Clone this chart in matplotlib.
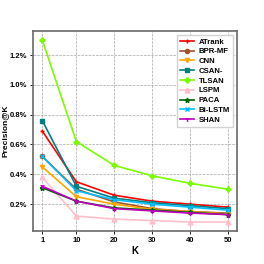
import matplotlib
matplotlib.use("Agg")
import matplotlib.pyplot as plt
from matplotlib.ticker import PercentFormatter

# ---------- data (Precision@K, as fractions) ----------
k = [1, 10, 20, 30, 40, 50]
atrank = [0.0069, 0.0035, 0.0026, 0.0022, 0.0020, 0.0018]
bprmf = [0.0052, 0.0030, 0.00215, 0.0017, 0.0015, 0.0014]
cnn = [0.0045, 0.0025, 0.0020, 0.00165, 0.0015, 0.00135]
csan = [0.0076, 0.0032, 0.0024, 0.0021, 0.0019, 0.0017]
tlsan = [0.0130, 0.0062, 0.0046, 0.0039, 0.0034, 0.0030]
lspm = [0.0038, 0.0012, 0.0010, 0.0009, 0.0008, 0.0008]
paca = [0.0031, 0.0022, 0.00175, 0.0016, 0.00145, 0.0013]
bilstm = [0.0052, 0.0029, 0.0023, 0.0020, 0.0018, 0.0016]
shan = [0.0032, 0.0022, 0.0017, 0.00155, 0.0014, 0.0013]

plt.rcParams['font.family'] = ['Liberation Sans', 'DejaVu Sans']
plt.rcParams['font.weight'] = 'bold'

fig = plt.figure(figsize=(2.64, 2.64), dpi=100)
ax = fig.add_axes([0.125, 0.125, 0.773, 0.757])

ax.plot(k, atrank, color='red', marker='+', markersize=3, linewidth=1.2, label='ATrank')
ax.plot(k, bprmf, color='sienna', marker='o', markersize=3, linewidth=1.2, label='BPR-MF')
ax.plot(k, cnn, color='orange', marker='v', markersize=3, linewidth=1.2, label='CNN')
ax.plot(k, csan, color='teal', marker='s', markersize=3.5, linewidth=1.2, label='CSAN-')
ax.plot(k, tlsan, color='lawngreen', marker='P', markersize=3.5, linewidth=1.2, label='TLSAN')
ax.plot(k, lspm, color='pink', marker='^', markersize=3.5, linewidth=1.2, label='LSPM')
ax.plot(k, paca, color='darkgreen', marker='*', markersize=3.5, linewidth=1.2, label='PACA')
ax.plot(k, bilstm, color='deepskyblue', marker='x', markersize=3, linewidth=1.2, label='Bi-LSTM')
ax.plot(k, shan, color='m', marker='1', markersize=3.5, linewidth=1.2, label='SHAN')

ax.set_xticks(k)
ax.set_ylim(0.0002, 0.0136)
ax.yaxis.set_major_formatter(PercentFormatter(1.0, decimals=1))
ax.tick_params(labelsize=5.5, length=2, width=0.6, pad=2)
ax.set_xlabel('K', fontsize=7, fontweight='bold', labelpad=2)
ax.set_ylabel('Precision@K', fontsize=6, fontweight='bold', va='center')
ax.yaxis.set_label_coords(-0.135, 0.5)
ax.grid(True, color='gray', linestyle='--', linewidth=0.5, alpha=0.7)
for s in ax.spines.values():
    s.set_color('dimgray')
    s.set_linewidth(1.2)

ax.legend(loc='upper right', fontsize=5.6, handlelength=1.8, handletextpad=0.6,
          labelspacing=0.3, borderpad=0.4, framealpha=1, edgecolor='lightgray',
          fancybox=False)

plt.savefig('out.png', dpi=100)
